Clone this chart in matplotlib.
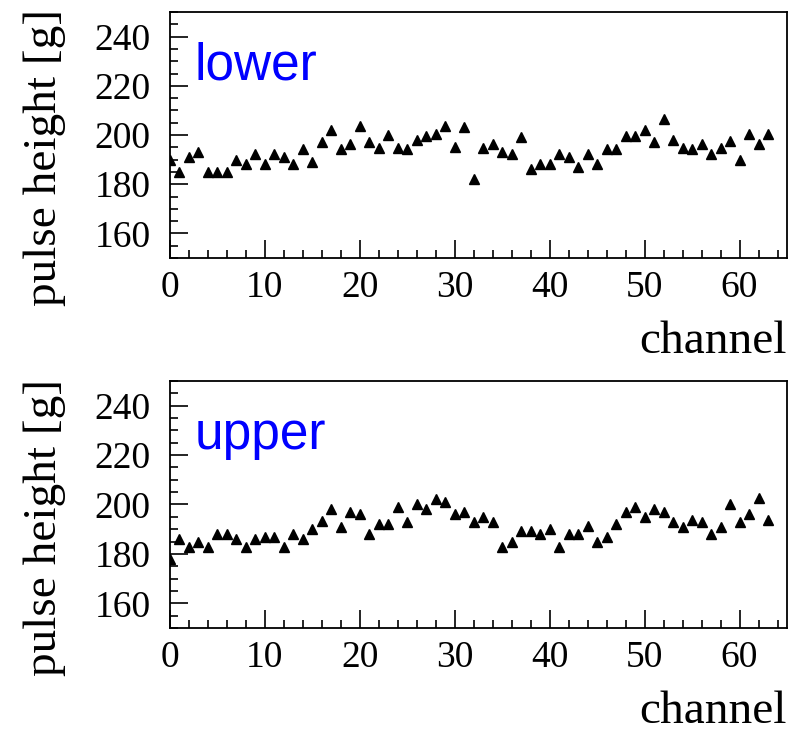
import numpy as np
import matplotlib
matplotlib.use("Agg")
import matplotlib.pyplot as plt
from matplotlib.ticker import MultipleLocator

# pulse height per channel, lower and upper layers
channels = np.arange(64)
lower = [189.8, 185.1, 190.9, 193.0, 185.1, 185.1, 185.1, 189.8, 188.1, 192.3,
         188.1, 192.3, 190.9, 188.1, 194.2, 189.1, 197.3, 202.0, 194.2, 196.2,
         203.8, 197.3, 194.8, 200.0, 194.8, 194.2, 198.0, 199.6, 200.3, 203.8,
         195.0, 203.1, 182.2, 194.8, 196.2, 193.0, 192.3, 199.3, 186.0, 188.1,
         188.1, 192.3, 190.9, 187.1, 192.3, 188.1, 194.2, 194.2, 199.6, 199.6,
         202.0, 197.3, 206.4, 198.0, 194.8, 194.2, 196.2, 192.3, 194.8, 197.6,
         189.8, 200.3, 196.2, 200.3]
upper = [178.0, 186.0, 182.9, 184.9, 182.9, 188.1, 188.1, 186.0, 182.9, 186.0,
         187.0, 187.0, 182.9, 188.1, 186.0, 190.1, 193.3, 198.2, 191.0, 197.1,
         196.2, 187.9, 192.0, 192.0, 198.9, 193.0, 200.1, 198.2, 202.1, 200.9,
         196.2, 196.8, 193.0, 195.1, 193.0, 182.9, 184.9, 189.3, 189.3, 188.1,
         190.0, 182.9, 188.1, 188.1, 191.3, 184.9, 187.0, 192.0, 196.8, 198.9,
         195.1, 198.2, 196.8, 193.0, 191.0, 193.7, 193.0, 188.1, 191.0, 200.1,
         193.0, 196.2, 202.8, 193.7]
panels = [("lower", lower), ("upper", upper)]

W, H = 791, 736
fig = plt.figure(figsize=(W / 100, H / 100), dpi=100)

serif = "Liberation Serif"
# axes boxes in pixels: left, top, right, bottom
boxes = [(170, 12, 787, 258), (170, 381, 787, 628)]

for (name, vals), (l, t, r, b) in zip(panels, boxes):
    ax = fig.add_axes([l / W, 1 - b / H, (r - l) / W, (b - t) / H])
    ax.plot(channels, vals, linestyle="none", marker="^", ms=7,
            color="black", clip_on=True)
    ax.set_xlim(0, 65)
    ax.set_ylim(150, 250)
    ax.xaxis.set_major_locator(MultipleLocator(10))
    ax.xaxis.set_minor_locator(MultipleLocator(2))
    ax.yaxis.set_minor_locator(MultipleLocator(5))
    ax.set_yticks([160, 180, 200, 220, 240])
    ax.tick_params(which="both", direction="in", width=1.2, colors="black")
    ax.tick_params(which="major", length=13)
    ax.tick_params(which="minor", length=6)
    ax.tick_params(axis="y", pad=14, labelsize=27)
    ax.tick_params(axis="x", pad=9, labelsize=27)
    for lab in ax.get_xticklabels() + ax.get_yticklabels():
        lab.set_fontfamily(serif)
    for sp in ax.spines.values():
        sp.set_linewidth(1.3)

    ax.text(0.04, 0.725, name, transform=ax.transAxes, color="#0000ff",
            fontsize=37, family="Liberation Sans", va="baseline")

    # axis titles placed in figure pixels
    fig.text(787 / W, 1 - (b + 95) / H, "channel", ha="right", va="baseline",
             fontsize=34, family=serif)
    fig.text(45 / W, 1 - (t + 146) / H, "pulse height [g]", rotation=90,
             ha="center", va="center", fontsize=34, family=serif)

fig.savefig("out.png", dpi=100)
